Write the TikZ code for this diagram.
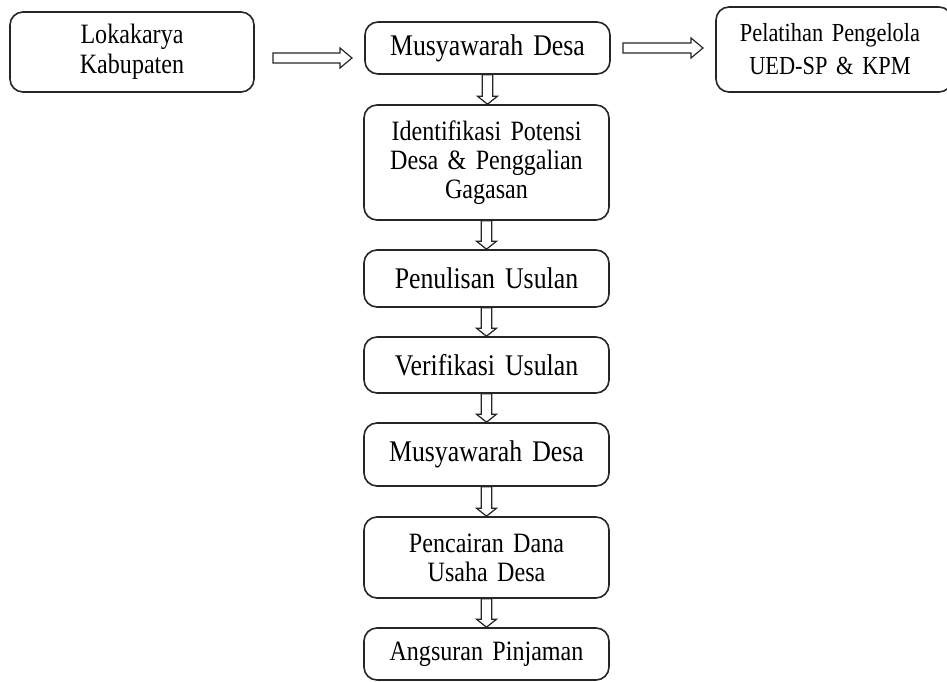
\documentclass[tikz,border=0pt]{standalone}
\usepackage{fontspec}
\setmainfont[FakeStretch=0.86,WordSpace=0.7]{Liberation Serif}
\usetikzlibrary{calc}
\tikzset{
  box/.style={draw=black!85, line width=1.6pt, rounded corners=13pt, inner sep=0pt,
    align=center, text width=235pt, font=\fontsize{30}{32}\selectfont},
  smalltext/.style={font=\fontsize{28}{29}\selectfont},
  lokatext/.style={font=\fontsize{28}{30.5}\selectfont},
  tinytext/.style={font=\fontsize{26}{33}\selectfont},
  blockarrow/.style={draw=black!85, line width=1.2pt, fill=white, line join=miter}
}
\newcommand\vblock[2]{%
  \draw[blockarrow] let \p1=(#1.south), \p2=(#2.north) in
    (\x1-5.3pt,\y1) -- (\x1-5.3pt,\y2+8pt) -- (\x1-10pt,\y2+8pt) -- (\x1,\y2)
    -- (\x1+10pt,\y2+8pt) -- (\x1+5.3pt,\y2+8pt) -- (\x1+5.3pt,\y1) -- cycle;}
\newcommand\hblock[2]{%
  \draw[blockarrow] let \p1=(#1), \p2=(#2) in
    (\x1,\y1-5pt) -- (\x2-12pt,\y1-5pt) -- (\x2-12pt,\y1-10pt) -- (\x2,\y1)
    -- (\x2-12pt,\y1+10pt) -- (\x2-12pt,\y1+5pt) -- (\x1,\y1+5pt) -- cycle;}
\begin{document}
\begin{tikzpicture}[x=1pt,y=-1pt]
\useasboundingbox (0,0) rectangle (947,682);
\clip (0,0) rectangle (947,682);
\node[box, lokatext, minimum width=244pt, minimum height=80pt] (A) at (132,52) {Lokakarya\\Kabupaten};
\node[box, minimum width=245pt, minimum height=52pt] (B) at (487.5,48) {Musyawarah Desa};
\node[box, tinytext, minimum width=236pt, minimum height=85pt, text width=220pt] (C) at (834,49.5) {\hspace*{-8pt}Pelatihan Pengelola\\\hspace*{-8pt}UED-SP \& KPM};
\node[box, smalltext, minimum width=245pt, minimum height=115pt] (D) at (486.5,162.5) {Identifikasi Potensi\\Desa \& Penggalian\\Gagasan};
\node[box, minimum width=245pt, minimum height=57pt] (E) at (486.5,278.5) {Penulisan Usulan};
\node[box, minimum width=245pt, minimum height=56pt] (F) at (486.5,365) {Verifikasi Usulan};
\node[box, minimum width=245pt, minimum height=63pt] (G) at (486.5,454.5) {Musyawarah Desa};
\node[box, smalltext, minimum width=245pt, minimum height=81pt] (H) at (486.5,557.5) {Pencairan Dana\\Usaha Desa};
\node[box, smalltext, minimum width=245pt, minimum height=52pt] (I) at (486.5,654) {Angsuran Pinjaman};
\coordinate (h1s) at (273,58);
\coordinate (h1e) at (352,58);
\coordinate (h2s) at (623,48);
\coordinate (h2e) at (703,48);
\hblock{h1s}{h1e}
\hblock{h2s}{h2e}
\vblock{B}{D}
\vblock{D}{E}
\vblock{E}{F}
\vblock{F}{G}
\vblock{G}{H}
\vblock{H}{I}
\end{tikzpicture}
\end{document}
